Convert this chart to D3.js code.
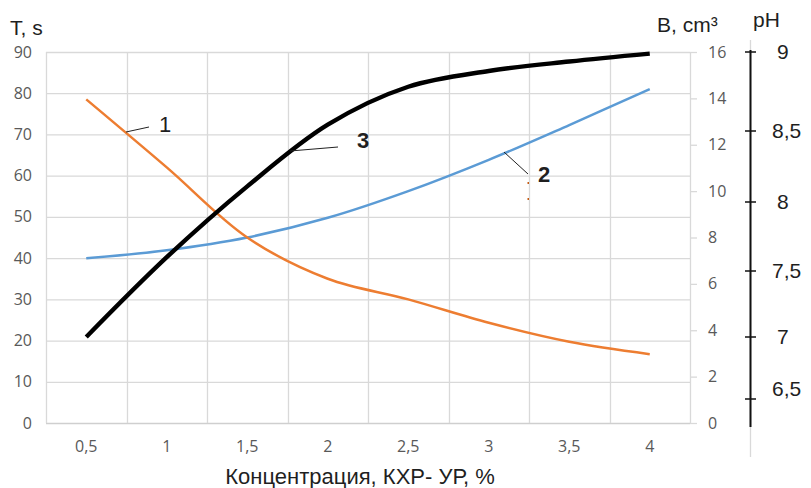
<!DOCTYPE html>
<html>
<head>
<meta charset="utf-8">
<script src="https://cdn.jsdelivr.net/npm/d3@7"></script>
<style>
  body { margin: 0; background: #fff; }
  svg { display: block; font-family: "Liberation Sans", Arial, sans-serif; }
</style>
</head>
<body>
<div id="chart"></div>
<script>
// categories (concentration, %)
const concentrations = ['0,5', '1', '1,5', '2', '2,5', '3', '3,5', '4'];
// curve 1 : T, s (left axis)
const timeT = [78.5, 62, 45, 35, 30, 24.3, 19.7, 16.7];
// curve 2 : B, cm3 (right axis)
const volumeB = [7.1, 7.45, 8.0, 8.85, 10.0, 11.35, 12.85, 14.4];
// curve 3 : pH (far right, hand drawn axis)
const phValues = [7.0, 7.6, 8.11, 8.54, 8.78, 8.88, 8.94, 8.99];

const leftTicks = [0, 10, 20, 30, 40, 50, 60, 70, 80, 90];
const rightTicks = [0, 2, 4, 6, 8, 10, 12, 14, 16];
const phTicks = [6.5, 7, 7.5, 8, 8.5, 9];
const phTickLabels = ['6,5', '7', '7,5', '8', '8,5', '9'];

const width = 811, height = 488;
const plot = { left: 46, right: 690, top: 52, bottom: 423 };
const gridColor = '#d9d9d9';
const tickColor = '#595959';
const textColor = '#1f1f1f';
const tickFont = '"Open Sans", "Liberation Sans", sans-serif';

const svg = d3.select('#chart').append('svg')
  .attr('width', width).attr('height', height);

const x = d3.scaleBand().domain(concentrations).range([plot.left, plot.right]).padding(0);
const cx = c => x(c) + x.bandwidth() / 2;
const yT = d3.scaleLinear().domain([0, 90]).range([plot.bottom, plot.top]);
const yB = d3.scaleLinear().domain([0, 16]).range([plot.bottom, plot.top]);
// the pH axis was drawn by hand, its ticks are not evenly spaced
const yPH = d3.scaleLinear().domain(phTicks).range([399, 337, 271, 202, 131, 52]);

// horizontal grid
svg.append('g').selectAll('line').data(leftTicks).join('line')
  .attr('x1', plot.left).attr('x2', plot.right)
  .attr('y1', d => yT(d) + 0.5).attr('y2', d => yT(d) + 0.5)
  .attr('stroke', d => d === 0 ? '#cfcfcf' : gridColor).attr('stroke-width', 1.3);

// vertical grid at band edges
const edges = concentrations.map(c => x(c)).concat([plot.right]);
svg.append('g').selectAll('line').data(edges).join('line')
  .attr('x1', d => Math.round(d) + 0.5).attr('x2', d => Math.round(d) + 0.5)
  .attr('y1', plot.top).attr('y2', plot.bottom)
  .attr('stroke', gridColor).attr('stroke-width', 1.3);

// left axis labels
svg.append('g').selectAll('text').data(leftTicks).join('text')
  .attr('x', 32).attr('y', d => yT(d) + 5.5)
  .attr('text-anchor', 'end').attr('font-family', tickFont)
  .attr('font-size', '16px').attr('fill', tickColor)
  .text(d => d);

// right axis (B) ticks and labels
svg.append('g').selectAll('line').data(rightTicks).join('line')
  .attr('x1', plot.right).attr('x2', plot.right + 7)
  .attr('y1', d => yB(d) + 0.5).attr('y2', d => yB(d) + 0.5)
  .attr('stroke', gridColor).attr('stroke-width', 1.3);
svg.append('g').selectAll('text').data(rightTicks).join('text')
  .attr('x', 708).attr('y', d => yB(d) + 5.5)
  .attr('font-family', tickFont)
  .attr('font-size', '16px').attr('fill', tickColor)
  .text(d => d);

// x axis labels
svg.append('g').selectAll('text').data(concentrations).join('text')
  .attr('x', d => cx(d)).attr('y', 452)
  .attr('text-anchor', 'middle').attr('font-family', tickFont)
  .attr('font-size', '16px').attr('fill', tickColor)
  .text(d => d);

// pH axis
svg.append('line').attr('x1', 750.5).attr('x2', 750.5).attr('y1', 40).attr('y2', 457)
  .attr('stroke', gridColor).attr('stroke-width', 1.3);
svg.append('line').attr('x1', 750.5).attr('x2', 750.5).attr('y1', 50).attr('y2', 427)
  .attr('stroke', '#111').attr('stroke-width', 2);
svg.append('g').selectAll('line').data(phTicks).join('line')
  .attr('x1', 745).attr('x2', 756)
  .attr('y1', d => yPH(d)).attr('y2', d => yPH(d))
  .attr('stroke', '#111').attr('stroke-width', 1.5);
svg.append('g').selectAll('text').data(phTicks).join('text')
  .attr('x', (d, i) => phTickLabels[i].length > 1 ? 772 : 777)
  .attr('y', d => yPH(d) + (d === 6.5 ? -3 : 7))
  .attr('font-size', '21px').attr('fill', textColor)
  .text((d, i) => phTickLabels[i]);

// axis titles
svg.append('text').attr('x', 10).attr('y', 35).attr('font-size', '21px').attr('fill', textColor).text('T, s');
svg.append('text').attr('x', 657).attr('y', 32).attr('font-size', '21px').attr('fill', textColor).text('B, cm³');
svg.append('text').attr('x', 753).attr('y', 27).attr('font-size', '21px').attr('fill', textColor).text('pH');
svg.append('text').attr('x', 360).attr('y', 484).attr('text-anchor', 'middle')
  .attr('font-size', '22px').attr('fill', textColor).text('Концентрация, КХР- УР, %');

// curves
const curve = d3.curveCatmullRom.alpha(0.5);
const lineOf = (vals, y) => d3.line().curve(curve)
  .x((d, i) => cx(concentrations[i])).y(d => y(d))(vals);

svg.append('path').attr('d', lineOf(volumeB, yB))
  .attr('fill', 'none').attr('stroke', '#5b9bd5').attr('stroke-width', 2.5);
svg.append('path').attr('d', lineOf(timeT, yT))
  .attr('fill', 'none').attr('stroke', '#ed7d31').attr('stroke-width', 2.5);
svg.append('path').attr('d', lineOf(phValues, yPH))
  .attr('fill', 'none').attr('stroke', '#000').attr('stroke-width', 4.4);

// curve labels with leader lines
const notes = [
  { text: '1', bold: false, line: [126, 132, 149, 127], tx: 159, ty: 132 },
  { text: '3', bold: true, line: [290, 151, 338, 147], tx: 357, ty: 148 },
  { text: '2', bold: true, line: [504, 152, 528, 174], tx: 538, ty: 182 }
];
notes.forEach(n => {
  svg.append('line')
    .attr('x1', n.line[0]).attr('y1', n.line[1]).attr('x2', n.line[2]).attr('y2', n.line[3])
    .attr('stroke', '#222').attr('stroke-width', 1);
  svg.append('text').attr('x', n.tx).attr('y', n.ty)
    .attr('font-size', '22px').attr('font-weight', n.bold ? 700 : 400)
    .attr('fill', textColor).text(n.text);
});
// two stray dots under the "2" leader
[183, 199].forEach(yy => {
  svg.append('rect').attr('x', 527.5).attr('y', yy - 1).attr('width', 1.5).attr('height', 2)
    .attr('fill', '#c55a11');
});
</script>
</body>
</html>
